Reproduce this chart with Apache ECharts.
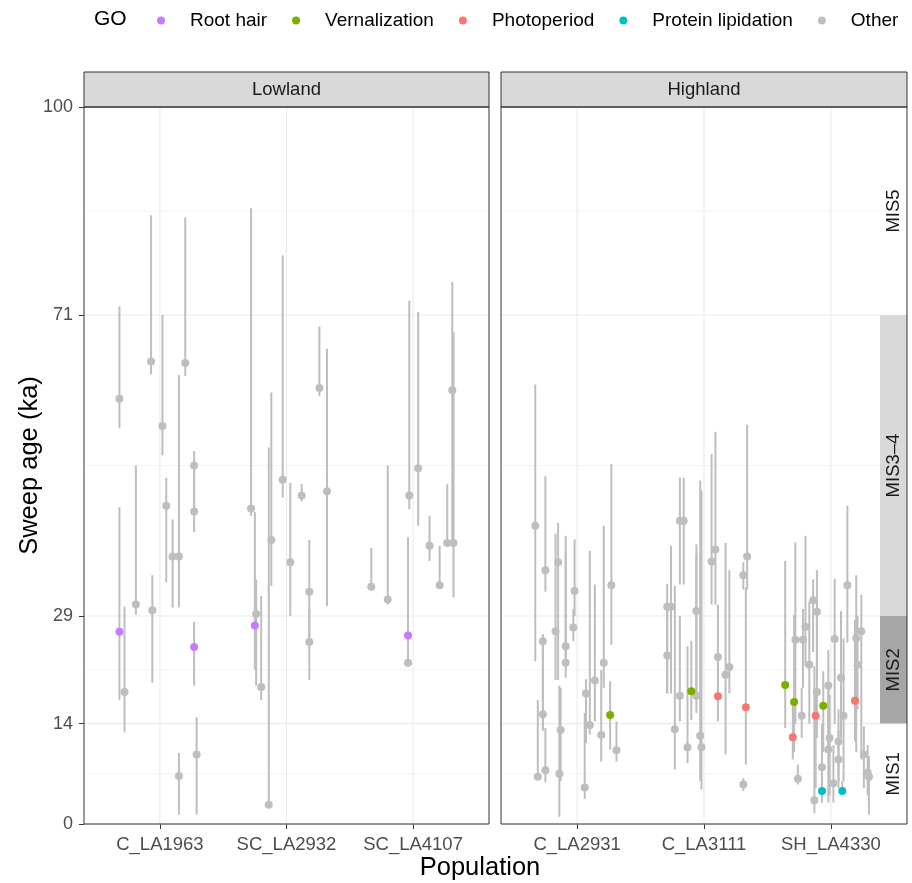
<!DOCTYPE html>
<html><head><meta charset="utf-8">
<script src="https://cdn.jsdelivr.net/npm/echarts@6/dist/echarts.min.js"></script>
<style>html,body{margin:0;padding:0;background:#fff}#chart{width:912px;height:883px}</style>
</head><body><div id="chart"></div>
<script>
// ---------- DATA ----------
const panels = ['Lowland', 'Highland'];
const populations = ['C_LA1963', 'SC_LA2932', 'SC_LA4107', 'C_LA2931', 'C_LA3111', 'SH_LA4330'];
const popPanel = [0, 0, 0, 1, 1, 1];
const goLevels = ['Root hair', 'Vernalization', 'Photoperiod', 'Protein lipidation', 'Other'];
const yBreaks = [0, 14, 29, 71, 100];
const yMinorBreaks = [7, 21.5, 50, 85.5];
const misLabels = ['MIS1', 'MIS2', 'MIS3–4', 'MIS5'];
const misFrom = [0, 14, 29, 71];
const misTo = [14, 29, 71, 100];

// rows: [jitter offset from category, sweep age, low, high, GO index]
const C_LA1963 = [
  [-0.32, 59.3, 55.2, 72.2, 4], [-0.07, 64.5, 62.7, 84.9, 4], [0.20, 64.3, 62.5, 84.6, 4],
  [0.02, 55.5, 51.4, 71.0, 4], [0.15, 37.3, 30.2, 62.6, 4], [0.10, 37.3, 30.2, 42.5, 4],
  [0.27, 50.0, 43.6, 52.0, 4], [0.27, 43.6, 40.7, 49.0, 4], [0.05, 44.4, 33.7, 48.3, 4],
  [-0.19, 30.6, 29.2, 50.0, 4], [-0.32, 26.8, 17.3, 44.2, 0], [-0.28, 18.4, 12.8, 30.3, 4],
  [-0.06, 29.8, 19.7, 34.7, 4], [0.27, 24.7, 19.3, 28.2, 0], [0.29, 9.7, 1.3, 14.9, 4],
  [0.15, 6.7, 1.3, 9.9, 4]
];
const SC_LA2932 = [
  [-0.28, 44.0, 43.0, 85.9, 4], [-0.03, 48.0, 45.5, 79.3, 4], [0.26, 60.8, 59.7, 69.4, 4],
  [0.32, 46.4, 30.4, 66.3, 4], [0.12, 45.8, 45.0, 47.4, 4], [-0.12, 39.6, 33.2, 60.2, 4],
  [-0.14, 2.7, 2.5, 52.5, 4], [0.03, 36.5, 29.0, 47.6, 4], [0.18, 32.4, 26.0, 39.6, 4],
  [0.18, 25.4, 20.1, 30.0, 4], [-0.24, 29.3, 19.3, 34.1, 4], [-0.25, 27.7, 21.5, 43.5, 0],
  [-0.20, 19.1, 17.3, 31.8, 4]
];
const SC_LA4107 = [
  [-0.33, 33.1, 33.1, 38.5, 4], [-0.20, 31.3, 30.6, 50.0, 4], [-0.03, 45.8, 43.9, 73.0, 4],
  [-0.04, 26.3, 24.0, 32.0, 0], [-0.04, 22.5, 22.0, 40.0, 4], [0.04, 49.6, 41.6, 71.4, 4],
  [0.13, 38.8, 36.7, 43.0, 4], [0.21, 33.3, 33.3, 38.8, 4], [0.27, 39.2, 39.2, 47.4, 4],
  [0.32, 39.2, 31.6, 68.6, 4], [0.31, 60.5, 39.0, 75.6, 4]
];
const C_LA2931 = [
  [-0.33, 41.6, 22.7, 61.3, 4], [-0.25, 35.4, 32.4, 48.5, 4], [-0.15, 36.5, 20.1, 42.0, 4],
  [-0.17, 26.9, 20.1, 40.5, 4], [-0.27, 25.5, 13.6, 26.5, 4], [-0.27, 15.3, 13.0, 25.0, 4],
  [-0.09, 24.8, 22.9, 40.2, 4], [-0.09, 22.5, 20.4, 38.0, 4], [-0.02, 32.5, 29.0, 39.7, 4],
  [-0.03, 27.4, 25.5, 30.0, 4], [0.10, 13.8, 12.5, 38.1, 4], [0.14, 20.0, 14.3, 33.4, 4],
  [0.21, 22.5, 19.0, 41.6, 4], [0.27, 33.3, 25.0, 50.2, 4], [-0.31, 6.6, 6.6, 17.3, 4],
  [-0.25, 7.5, 5.8, 13.4, 4], [-0.14, 7.0, 1.0, 19.3, 4], [-0.13, 13.1, 6.0, 19.0, 4],
  [0.06, 5.1, 3.5, 15.5, 4], [0.07, 18.2, 11.3, 20.2, 4], [0.19, 12.4, 8.7, 21.5, 4],
  [0.26, 15.2, 10.4, 19.9, 1], [0.31, 10.3, 8.7, 14.3, 4]
];
const C_LA3111 = [
  [-0.19, 42.3, 33.4, 48.3, 4], [-0.16, 42.3, 33.4, 48.3, 4], [-0.26, 30.3, 18.2, 38.8, 4],
  [-0.29, 30.3, 18.2, 33.5, 4], [-0.29, 23.5, 18.2, 30.9, 4], [-0.23, 13.2, 7.6, 33.2, 4],
  [-0.19, 17.9, 14.3, 29.0, 4], [-0.13, 10.7, 8.5, 24.8, 4], [-0.10, 18.5, 14.5, 25.5, 1],
  [-0.06, 29.7, 18.0, 37.6, 4], [-0.06, 17.9, 15.5, 39.0, 4], [-0.03, 12.3, 6.0, 47.9, 4],
  [-0.02, 10.7, 4.8, 46.5, 4], [0.09, 38.3, 30.6, 54.7, 4], [0.06, 36.6, 30.6, 51.6, 4],
  [0.11, 23.3, 20.0, 30.6, 4], [0.11, 17.8, 14.3, 23.0, 2], [0.17, 20.8, 9.7, 39.2, 4],
  [0.20, 21.9, 18.2, 35.4, 4], [0.34, 37.3, 32.7, 55.7, 4], [0.31, 34.7, 32.7, 36.5, 4],
  [0.33, 16.3, 8.3, 33.0, 2], [0.31, 5.5, 4.6, 6.4, 4]
];
const SH_LA4330 = [
  [0.13, 33.3, 25.3, 44.4, 4], [-0.14, 31.2, 24.0, 34.1, 4], [-0.11, 29.6, 20.0, 35.4, 4],
  [-0.20, 27.5, 22.0, 40.2, 4], [-0.28, 25.7, 14.0, 39.3, 4], [-0.22, 25.7, 19.0, 30.0, 4],
  [-0.17, 22.2, 14.0, 31.0, 4], [0.03, 25.8, 14.0, 34.2, 4], [0.20, 25.9, 10.0, 34.7, 4],
  [0.24, 26.9, 9.0, 32.0, 4], [0.21, 22.2, 16.0, 29.0, 4], [0.08, 20.4, 12.0, 29.7, 4],
  [-0.02, 19.3, 10.0, 24.3, 4], [-0.11, 18.4, 12.0, 31.0, 4], [-0.36, 19.4, 13.4, 36.7, 1],
  [-0.29, 17.0, 10.0, 29.2, 1], [-0.06, 16.5, 10.0, 21.3, 1], [0.19, 17.2, 11.5, 28.5, 2],
  [-0.12, 15.1, 5.0, 18.7, 2], [-0.30, 12.1, 9.0, 17.3, 2], [-0.23, 15.1, 12.0, 19.0, 4],
  [0.10, 15.1, 6.0, 25.9, 4], [-0.01, 12.0, 4.0, 18.0, 4], [0.06, 11.5, 6.0, 16.0, 4],
  [-0.02, 10.4, 3.0, 19.0, 4], [0.06, 9.0, 5.0, 13.0, 4], [-0.07, 7.9, 3.0, 14.0, 4],
  [0.26, 9.7, 5.0, 13.6, 4], [0.29, 7.2, 4.0, 11.0, 4], [0.30, 6.6, 1.3, 9.5, 4],
  [-0.26, 6.3, 5.5, 8.3, 4], [0.02, 5.7, 3.0, 11.0, 4], [-0.07, 4.6, 3.0, 12.0, 3],
  [0.09, 4.6, 4.6, 6.0, 3], [-0.13, 3.3, 1.5, 22.0, 4]
];
const popData = [C_LA1963, SC_LA2932, SC_LA4107, C_LA2931, C_LA3111, SH_LA4330];

// ---------- STYLE ----------
const FONT = 'Liberation Sans, Arial, sans-serif';
const goColors = ['#C77CFF', '#7CAE00', '#F8766D', '#00BFC4', '#BEBEBE'];
const misFill = ['#ffffff', '#a6a6a6', '#d9d9d9', '#ffffff'];
const barColor = '#BEBEBE';
const gridRects = [{ left: 84, top: 107, width: 405, height: 717 }, { left: 501, top: 107, width: 406, height: 717 }];

// ---------- BUILD ----------
function popsOfPanel(p) { return populations.filter((_, i) => popPanel[i] === p); }

function renderGridLines(params, api) {
  const cs = params.coordSys;
  const o = api.value(0), v = api.value(1), major = api.value(2);
  const lw = major ? 1.1 : 0.55;
  if (o === 0) {
    const y = api.coord([2, v])[1];
    return { type: 'line', shape: { x1: cs.x, y1: y, x2: cs.x + cs.width, y2: y }, style: { stroke: '#ebebeb', lineWidth: lw } };
  }
  const x = api.coord([v, 50])[0];
  return { type: 'line', shape: { x1: x, y1: cs.y, x2: x, y2: cs.y + cs.height }, style: { stroke: '#ebebeb', lineWidth: lw } };
}
function renderBar(params, api) {
  const p1 = api.coord([api.value(0), api.value(1)]);
  const p2 = api.coord([api.value(0), api.value(2)]);
  return { type: 'line', shape: { x1: p1[0], y1: p1[1], x2: p2[0], y2: p2[1] }, style: { stroke: barColor, lineWidth: 2 } };
}
function renderMis(params, api) {
  const i = params.dataIndex;
  const cs = params.coordSys;
  const yTop = api.coord([3, api.value(1)])[1];
  const yBot = api.coord([3, api.value(0)])[1];
  const x0 = cs.x + cs.width - 27;
  return {
    type: 'group', children: [
      { type: 'rect', shape: { x: x0, y: yTop, width: cs.x + cs.width - x0, height: yBot - yTop }, style: { fill: misFill[i] } },
      { type: 'text', x: x0 + 13.5, y: (yTop + yBot) / 2, rotation: Math.PI / 2,
        style: { text: misLabels[i], fill: '#1a1a1a', font: '18.5px ' + FONT, align: 'center', verticalAlign: 'middle' } }
    ]
  };
}

const grid = gridRects.map(r => ({ left: r.left, top: r.top, width: r.width, height: r.height, show: false }));
const xAxis = [0, 1].map(p => ({
  type: 'value', gridIndex: p, min: 0.4, max: 3.6,
  splitLine: { show: false },
  axisLine: { show: false },
  axisTick: { show: true, customValues: [1, 2, 3], length: 5, lineStyle: { color: '#333', width: 1 } },
  axisLabel: { customValues: [1, 2, 3], margin: 11, color: '#4d4d4d', fontSize: 18.5, fontFamily: FONT,
    formatter: v => popsOfPanel(p)[Math.round(v) - 1] }
}));
const yAxis = [0, 1].map(p => ({
  type: 'value', gridIndex: p, min: 0, max: 100,
  splitLine: { show: false },
  axisLine: { show: false },
  axisTick: { show: p === 0, customValues: yBreaks, length: 5, lineStyle: { color: '#333', width: 1 } },
  axisLabel: { show: p === 0, customValues: yBreaks, margin: 11, color: '#4d4d4d', fontSize: 18, fontFamily: FONT }
}));

const series = [];
[0, 1].forEach(p => {
  const gl = [];
  yBreaks.forEach(v => gl.push([0, v, 1]));
  yMinorBreaks.forEach(v => gl.push([0, v, 0]));
  [1, 2, 3].forEach(v => gl.push([1, v, 1]));
  series.push({ type: 'custom', xAxisIndex: p, yAxisIndex: p, renderItem: renderGridLines, data: gl, silent: true, z: 1 });
});
series.push({ type: 'custom', xAxisIndex: 1, yAxisIndex: 1, renderItem: renderMis,
  data: misFrom.map((f, i) => [f, misTo[i]]), silent: true, z: 2 });

[0, 1].forEach(p => {
  const bars = [];
  populations.forEach((pop, i) => {
    if (popPanel[i] !== p) return;
    const catPos = popsOfPanel(p).indexOf(pop) + 1;
    popData[i].forEach(r => bars.push([catPos + r[0], r[2], r[3]]));
  });
  series.push({ type: 'custom', xAxisIndex: p, yAxisIndex: p, renderItem: renderBar, data: bars, silent: true, z: 3 });
});

const drawOrder = [4, 0, 1, 2, 3];
[0, 1].forEach(p => {
  drawOrder.forEach(g => {
    const pts = [];
    populations.forEach((pop, i) => {
      if (popPanel[i] !== p) return;
      const catPos = popsOfPanel(p).indexOf(pop) + 1;
      popData[i].forEach(r => { if (r[4] === g) pts.push([catPos + r[0], r[1]]); });
    });
    series.push({ type: 'scatter', name: goLevels[g], xAxisIndex: p, yAxisIndex: p, data: pts,
      symbol: 'circle', symbolSize: 8, itemStyle: { color: goColors[g], opacity: 1 }, z: 4 + (g === 4 ? 0 : 1), silent: true });
  });
});

const graphic = [];
gridRects.forEach((r, p) => {
  graphic.push({ type: 'rect', z: 100, shape: { x: r.left, y: 72, width: r.width, height: r.top - 72 },
    style: { fill: '#d9d9d9', stroke: '#333', lineWidth: 1 } });
  graphic.push({ type: 'text', z: 101, x: r.left + r.width / 2, y: (72 + r.top) / 2,
    style: { text: panels[p], fill: '#1a1a1a', font: '18.5px ' + FONT, align: 'center', verticalAlign: 'middle' } });
  graphic.push({ type: 'rect', z: 100, shape: { x: r.left, y: r.top, width: r.width, height: r.height },
    style: { fill: null, stroke: '#333', lineWidth: 1 } });
});
graphic.push({ type: 'text', z: 101, x: 30, y: 465.5, rotation: Math.PI / 2,
  style: { text: 'Sweep age (ka)', fill: '#000', font: '25.5px ' + FONT, align: 'center', verticalAlign: 'middle' } });
graphic.push({ type: 'text', z: 101, x: 480, y: 868,
  style: { text: 'Population', fill: '#000', font: '25.5px ' + FONT, align: 'center', verticalAlign: 'middle' } });
graphic.push({ type: 'text', z: 101, x: 94, y: 19,
  style: { text: 'GO', fill: '#000', font: '21px ' + FONT, align: 'left', verticalAlign: 'middle' } });

const chart = echarts.init(document.getElementById('chart'), null, { renderer: 'canvas' });
chart.setOption({
  animation: false,
  backgroundColor: '#ffffff',
  grid, xAxis, yAxis, series, graphic,
  legend: {
    data: goLevels, left: 152, top: 6, icon: 'circle', itemWidth: 8, itemHeight: 8, itemGap: 25,
    selectedMode: false, textStyle: { fontSize: 19, color: '#000', fontFamily: FONT, padding: [0, 0, 0, 20] }
  }
});
</script></body></html>
